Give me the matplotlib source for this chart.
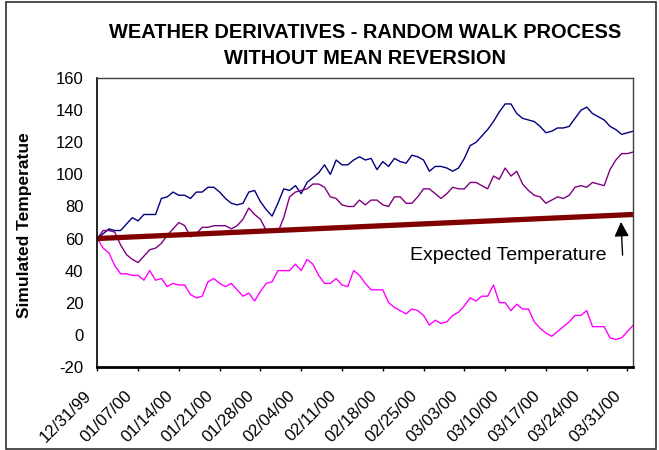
import numpy as np
import pandas as pd
import matplotlib
matplotlib.use("Agg")
import matplotlib.pyplot as plt
import matplotlib.dates as mdates
from matplotlib.patches import Rectangle
from matplotlib.transforms import ScaledTranslation

plt.rcParams['font.family'] = ['Liberation Sans', 'DejaVu Sans']
plt.rcParams['axes.unicode_minus'] = False

# daily dates of the simulation
start_date = "1999-12-31"
end_date = "2000-04-01"

# three simulated random walk paths
walk_navy = [60, 63, 66, 65, 65, 69, 73, 71, 75, 75,
             75, 85, 86, 89, 87, 87, 85, 89, 89, 92,
             92, 89, 85, 82, 81, 82, 89, 90, 83, 78,
             74, 82, 91, 90, 93, 88, 95, 98, 101, 106,
             100, 109, 106, 106, 109, 111, 109,
             110, 103, 108, 105, 110, 108, 107, 112, 111, 109,
             102, 105, 105, 104, 102, 104, 110, 118, 120, 124,
             128, 133, 139, 144, 144, 138, 135, 134, 133, 130,
             126, 127, 129, 129, 130, 135, 140, 142, 138, 136,
             134, 130, 128, 125, 126, 127]

walk_purple = [60, 65, 65, 64, 56, 50, 47, 45, 49, 53,
               54, 57, 62, 66, 70, 68, 61, 63, 67, 67,
               68, 68, 68, 66, 68, 72, 79, 75, 72, 65,
               65, 64, 73, 86, 89, 90, 91, 94, 94, 92,
               86, 85, 81, 80, 80, 84, 81,
               84, 84, 81, 80, 86, 86, 82, 82, 86, 91,
               91, 88, 85, 88, 92, 91, 91, 95, 95, 93,
               91, 99, 97, 104, 99, 102, 94, 90, 87, 86,
               82, 84, 86, 85, 87, 92, 93, 92, 95, 94,
               93, 103, 109, 113, 113, 114]

walk_magenta = [60, 54, 51, 43, 38, 38, 37, 37, 34, 40,
                34, 35, 30, 32, 31, 31, 25, 23, 24, 33,
                35, 32, 30, 32, 28, 24, 26, 21, 27, 32,
                33, 40, 40, 40, 44, 40, 47, 44, 37, 32,
                32, 35, 31, 30, 40, 37, 32,
                28, 28, 28, 20, 17, 15, 13, 16, 15, 12,
                6, 9, 7, 8, 12, 14, 18, 23, 21, 24,
                24, 31, 20, 20, 15, 19, 16, 16, 8, 4,
                1, -1, 2, 5, 8, 12, 12, 15, 5, 5,
                5, -2, -3, -2, 2, 6]

# expected temperature: straight trend line, start and end
expected_temp = [60, 75]

y_ticks = [-20, 0, 20, 40, 60, 80, 100, 120, 140, 160]

dates = pd.date_range(start_date, end_date, freq="D")
expected_dates = [dates[0], dates[-1]]
week_ticks = dates[::7]

W, H = 659, 450
fig = plt.figure(figsize=(W / 100, H / 100), dpi=100)
ax = fig.add_axes([97.3 / W, 1 - 366.7 / H, 536 / W, 288.4 / H])

ax.plot(dates, walk_navy, color='#000080', lw=1.0)
ax.plot(dates, walk_purple, color='#800080', lw=1.0)
ax.plot(dates, walk_magenta, color='#FF00FF', lw=1.0)
ax.plot(expected_dates, expected_temp, color='#800000', lw=3.8, solid_capstyle='butt')

ax.set_xlim(dates[0], dates[-1])
ax.set_ylim(y_ticks[0], y_ticks[-1])
ax.set_yticks(y_ticks)
ax.tick_params(axis='y', length=0, pad=10, labelsize=12)
ax.set_xticks(week_ticks)
ax.xaxis.set_major_formatter(mdates.DateFormatter('%m/%d/%y'))
ax.tick_params(axis='x', direction='out', length=3, width=1, pad=16, labelsize=12.2)
# rotated labels sit a little left of their tick, like the Excel original
shift = ScaledTranslation(-8.5 / 100, 0, fig.dpi_scale_trans)
for lab in ax.get_xticklabels():
    lab.set_rotation(45)
    lab.set_ha('right')
    lab.set_va('center')
    lab.set_rotation_mode('anchor')
    lab.set_transform(lab.get_transform() + shift)

for side in ['top', 'right']:
    ax.spines[side].set_color('#404040')
    ax.spines[side].set_linewidth(1.0)
ax.spines['left'].set_linewidth(1.2)
ax.spines['bottom'].set_linewidth(2.0)

# annotation with arrow pointing at the expected line
ax.text(0.766, 0.387, 'Expected Temperature', transform=ax.transAxes,
        ha='center', va='center', fontsize=14)
ax.annotate('', xy=(0.977, 0.502), xycoords='axes fraction',
            xytext=(0.980, 0.387), textcoords='axes fraction',
            arrowprops=dict(arrowstyle='-|>', color='black', lw=1.0,
                            mutation_scale=22, shrinkA=0, shrinkB=0))

fig.text(365 / W, 1 - 33 / H, 'WEATHER DERIVATIVES - RANDOM WALK PROCESS',
         ha='center', va='center', fontsize=14.4, fontweight='bold')
fig.text(365 / W, 1 - 58 / H, 'WITHOUT MEAN REVERSION',
         ha='center', va='center', fontsize=14.4, fontweight='bold')
fig.text(25 / W, 1 - 225 / H, 'Simulated Temperatue', rotation=90,
         ha='center', va='center', fontsize=12.5, fontweight='bold')

# outer chart border
fig.patches.append(Rectangle((6 / W, 1 / H), 650 / W, 447 / H, transform=fig.transFigure,
                             fill=False, lw=1.2, ec='#303030'))

fig.savefig('out.png', dpi=100)
